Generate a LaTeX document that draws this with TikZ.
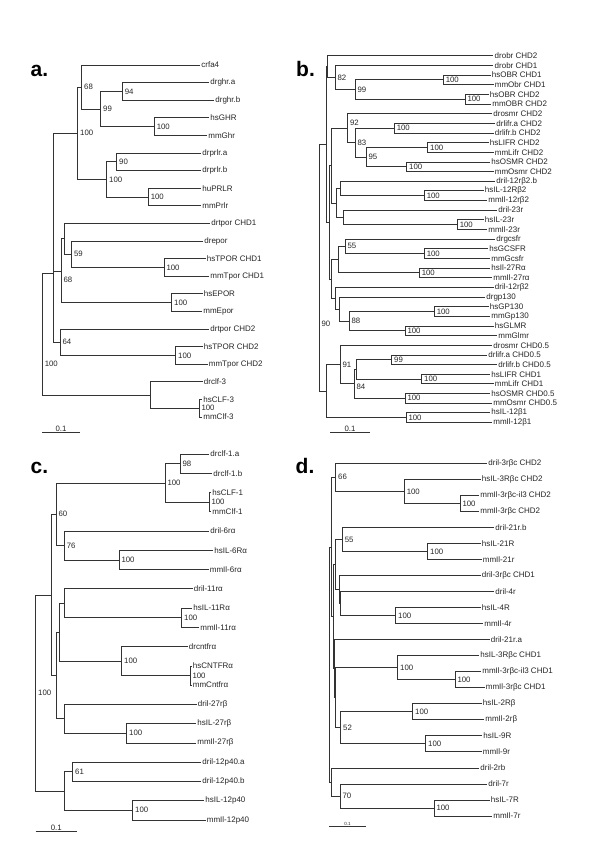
\documentclass[tikz,border=0pt]{standalone}
\usepackage{fontspec}
\setmainfont{Liberation Sans}
\newcommand\leafn[4]{\coordinate (#1) at (#2,#3); \node[lab] (#1t) at (#1) {#4};}
\newcommand\inod[3]{\coordinate (#1) at (#2,#3);}
\newcommand\kidz[2]{\foreach \k in {#2}{\draw[br] (#1) |- (\k);}}
\newcommand\bsv[2]{\node[bsl] (L#1) at (#1) {#2};}
\begin{document}
\begin{tikzpicture}[x=1pt,y=-1pt,
  br/.style={draw=black!80, line width=0.7pt},
  lab/.style={anchor=west, inner sep=1.2pt, font=\fontsize{8}{9}\selectfont, text=black!85},
  bsl/.style={anchor=west, inner sep=1pt, xshift=1.3pt, font=\fontsize{7.8}{9}\selectfont, text=black!85},
  sbl/.style={anchor=south, inner sep=0.6pt, font=\fontsize{7.8}{9}\selectfont, text=black!85},
  pl/.style={anchor=base west, inner sep=0pt, font=\fontsize{21}{21}\selectfont\bfseries}]
\useasboundingbox (0,0) rectangle (600,848);
\fill[white] (0,0) rectangle (600,848);

% ================= panel a =================
\node[pl] (pa) at (30.5,76.7) {a.};
\leafn{a1}{200}{65}{crfa4}
\leafn{a2}{209}{82.6}{drghr.a}
\leafn{a3}{214}{100.2}{drghr.b}
\leafn{a4}{209}{117.8}{hsGHR}
\leafn{a5}{207}{135.4}{mmGhr}
\leafn{a6}{201}{153}{drprlr.a}
\leafn{a7}{201}{170.6}{drprlr.b}
\leafn{a8}{201}{188.2}{huPRLR}
\leafn{a9}{201}{205.8}{mmPrlr}
\leafn{a10}{210}{223.4}{drtpor CHD1}
\leafn{a11}{203}{241}{drepor}
\leafn{a12}{205.5}{258.6}{hsTPOR CHD1}
\leafn{a13}{209}{276.2}{mmTpor CHD1}
\leafn{a14}{202.5}{293.8}{hsEPOR}
\leafn{a15}{202}{311.4}{mmEpor}
\leafn{a16}{209}{329}{drtpor CHD2}
\leafn{a17}{202.5}{346.6}{hsTPOR CHD2}
\leafn{a18}{207.5}{364.2}{mmTpor CHD2}
\leafn{a19}{202.5}{381.8}{drclf-3}
\leafn{a20}{202}{399.4}{hsCLF-3}
\leafn{a21}{202}{417}{mmClf-3}

\inod{aA}{122.3}{91.4} \kidz{aA}{a2,a3} \bsv{aA}{94}
\inod{aB}{154.3}{126.6} \kidz{aB}{a4,a5} \bsv{aB}{100}
\inod{aC}{100.7}{109} \kidz{aC}{aA,aB} \bsv{aC}{99}
\inod{aD}{81.7}{87} \kidz{aD}{a1,aC} \bsv{aD}{68}
\inod{aE}{116.7}{161.8} \kidz{aE}{a6,a7} \bsv{aE}{90}
\inod{aF}{148.3}{197} \kidz{aF}{a8,a9} \bsv{aF}{100}
\inod{aG}{106.7}{179.4} \kidz{aG}{aE,aF} \bsv{aG}{100}
\inod{aH}{77.7}{133.2} \kidz{aH}{aD,aG} \bsv{aH}{100}
\inod{aI}{164}{267.4} \kidz{aI}{a12,a13} \bsv{aI}{100}
\inod{aJ}{71.5}{254.2} \kidz{aJ}{a11,aI} \bsv{aJ}{59}
\inod{aK}{64.3}{238.8} \kidz{aK}{a10,aJ}
\inod{aL}{171.7}{302.6} \kidz{aL}{a14,a15} \bsv{aL}{100}
\inod{aM}{61}{271} \kidz{aM}{aK,aL} \node[bsl] (LaM) at (61,280) {68};
\inod{aN}{175.7}{355.4} \kidz{aN}{a17,a18} \bsv{aN}{100}
\inod{aO}{60}{342.2} \kidz{aO}{a16,aN} \bsv{aO}{64}
\inod{aP}{53.3}{273.3} \kidz{aP}{aH,aM,aO}
\inod{aQ}{199}{408.2} \kidz{aQ}{a20,a21} \bsv{aQ}{100}
\inod{aR}{150}{395} \kidz{aR}{a19,aQ}
\inod{aS}{42.3}{334} \kidz{aS}{aP,aR} \node[bsl] (LaS) at (42.3,364) {100};
\coordinate (sa0) at (42,432); \coordinate (sa1) at (80,432);
\draw[br] (sa0) -- (sa1); \node[sbl] (sat) at (61,432) {0.1};

% ================= panel b =================
\node[pl] (pb) at (296,76.7) {b.};
\leafn{b1}{493.3}{55.7}{drobr CHD2}
\leafn{b2}{493.3}{65.35}{drobr CHD1}
\leafn{b3}{490.5}{75}{hsOBR CHD1}
\leafn{b4}{493.5}{84.65}{mmObr CHD1}
\leafn{b5}{488.5}{94.3}{hsOBR CHD2}
\leafn{b6}{491}{103.95}{mmOBR CHD2}
\leafn{b7}{492}{113.6}{drosmr CHD2}
\leafn{b8}{495}{123.25}{drlifr.a CHD2}
\leafn{b9}{493.5}{132.9}{drlifr.b CHD2}
\leafn{b10}{488.5}{142.55}{hsLIFR CHD2}
\leafn{b11}{493.5}{152.2}{mmLifr CHD2}
\leafn{b12}{490}{161.85}{hsOSMR CHD2}
\leafn{b13}{493.5}{171.5}{mmOsmr CHD2}
\leafn{b14}{495}{181.15}{dril-12rβ2.b}
\leafn{b15}{483.5}{190.8}{hsIL-12Rβ2}
\leafn{b16}{487}{200.45}{mmIl-12rβ2}
\leafn{b17}{497}{210.1}{dril-23r}
\leafn{b18}{483.5}{219.75}{hsIL-23r}
\leafn{b19}{487}{229.4}{mmIl-23r}
\leafn{b20}{495}{239.05}{drgcsfr}
\leafn{b21}{488}{248.7}{hsGCSFR}
\leafn{b22}{490}{258.35}{mmGcsfr}
\leafn{b23}{490}{268}{hsIl-27Rα}
\leafn{b24}{492}{277.65}{mmIl-27rα}
\leafn{b25}{493.5}{287.3}{dril-12rβ2}
\leafn{b26}{485}{296.95}{drgp130}
\leafn{b27}{488.5}{306.6}{hsGP130}
\leafn{b28}{490}{316.25}{mmGp130}
\leafn{b29}{493.5}{325.9}{hsGLMR}
\leafn{b30}{497}{335.55}{mmGlmr}
\leafn{b31}{492}{345.2}{drosmr CHD0.5}
\leafn{b32}{487}{354.85}{drlifr.a CHD0.5}
\leafn{b33}{497}{364.5}{drlifr.b CHD0.5}
\leafn{b34}{490}{374.15}{hsLIFR CHD1}
\leafn{b35}{493.5}{383.8}{mmLifr CHD1}
\leafn{b36}{490}{393.45}{hsOSMR CHD0.5}
\leafn{b37}{492}{403.1}{mmOsmr CHD0.5}
\leafn{b38}{490}{412.75}{hsIL-12β1}
\leafn{b39}{492}{422.4}{mmIl-12β1}

\inod{bA}{443.3}{79.8} \kidz{bA}{b3,b4} \bsv{bA}{100}
\inod{bB}{465}{99.1} \kidz{bB}{b5,b6} \bsv{bB}{100}
\inod{bC}{355}{89.5} \kidz{bC}{bA,bB} \bsv{bC}{99}
\inod{bD}{335}{77.4} \kidz{bD}{b2,bC} \bsv{bD}{82}
\inod{bE}{327.5}{66.6} \kidz{bE}{b1,bD}
\inod{bF}{394.3}{128.1} \kidz{bF}{b8,b9} \bsv{bF}{100}
\inod{bG}{427.7}{147.4} \kidz{bG}{b10,b11} \bsv{bG}{100}
\inod{bH}{406.7}{166.7} \kidz{bH}{b12,b13} \bsv{bH}{100}
\inod{bI}{366}{157} \kidz{bI}{bG,bH} \bsv{bI}{95}
\inod{bJ}{355}{142.6} \kidz{bJ}{bF,bI} \bsv{bJ}{83}
\inod{bK}{347.5}{128.1} \kidz{bK}{b7,bJ} \node[bsl] (LbK) at (347.5,122.7) {92};
\inod{bL}{424.3}{195.6} \kidz{bL}{b15,b16} \bsv{bL}{100}
\inod{bM}{340.7}{188.4} \kidz{bM}{b14,bL}
\inod{bN}{457.3}{224.6} \kidz{bN}{b18,b19} \bsv{bN}{100}
\inod{bO}{343.3}{217.4} \kidz{bO}{b17,bN}
\inod{bP}{336.7}{202.9} \kidz{bP}{bM,bO}
\inod{bQ}{331}{165.5} \kidz{bQ}{bK,bP}
\inod{bR}{424.3}{253.5} \kidz{bR}{b21,b22} \bsv{bR}{100}
\inod{bS}{345}{246.3} \kidz{bS}{b20,bR} \bsv{bS}{55}
\inod{bT}{419.3}{272.8} \kidz{bT}{b23,b24} \bsv{bT}{100}
\inod{bU}{338.3}{259.6} \kidz{bU}{bS,bT}
\inod{bV}{434.3}{311.4} \kidz{bV}{b27,b28} \bsv{bV}{100}
\inod{bW}{405}{330.7} \kidz{bW}{b29,b30} \bsv{bW}{100}
\inod{bX}{349}{321.1} \kidz{bX}{bV,bW} \bsv{bX}{88}
\inod{bY}{339}{309} \kidz{bY}{b26,bX}
\inod{bZ}{335.7}{298.2} \kidz{bZ}{b25,bY}
\inod{bAA}{331.5}{278.9} \kidz{bAA}{bU,bZ}
\inod{bAB}{329}{222.2} \kidz{bAB}{bQ,bAA}
\inod{bAC}{326}{144.4} \kidz{bAC}{bE,bAB}
\inod{bAD}{391.7}{359.7} \kidz{bAD}{b32,b33} \bsv{bAD}{99}
\inod{bAE}{421.7}{379} \kidz{bAE}{b34,b35} \bsv{bAE}{100}
\inod{bAF}{356}{369.3} \kidz{bAF}{bAD,bAE}
\inod{bAG}{405}{398.3} \kidz{bAG}{b36,b37} \bsv{bAG}{100}
\inod{bAH}{354}{383.8} \kidz{bAH}{bAF,bAG} \node[bsl] (LbAH) at (354,387.3) {84};
\inod{bAI}{340}{364.5} \kidz{bAI}{b31,bAH} \bsv{bAI}{91}
\inod{bAJ}{406}{417.6} \kidz{bAJ}{b38,b39} \bsv{bAJ}{100}
\inod{bAK}{326}{391} \kidz{bAK}{bAI,bAJ}
\inod{bAL}{319}{267.7} \kidz{bAL}{bAC,bAK} \node[bsl] (LbAL) at (319,323.5) {90};
\coordinate (sb0) at (330,432); \coordinate (sb1) at (370,432);
\draw[br] (sb0) -- (sb1); \node[sbl] (sbt) at (350,432) {0.1};

% ================= panel c =================
\node[pl] (pc) at (30.5,473.3) {c.};
\leafn{c1}{209}{454}{drclf-1.a}
\leafn{c2}{212}{473.26}{drclf-1.b}
\leafn{c3}{211}{492.52}{hsCLF-1}
\leafn{c4}{211}{511.78}{mmClf-1}
\leafn{c5}{209}{531.04}{dril-6rα}
\leafn{c6}{213}{550.3}{hsIL-6Rα}
\leafn{c7}{208.5}{569.56}{mmIl-6rα}
\leafn{c8}{192.5}{588.82}{dril-11rα}
\leafn{c9}{192}{608.08}{hsIL-11Rα}
\leafn{c10}{199}{627.34}{mmIl-11rα}
\leafn{c11}{187.5}{646.6}{drcntfrα}
\leafn{c12}{191.5}{665.86}{hsCNTFRα}
\leafn{c13}{191.5}{685.12}{mmCntfrα}
\leafn{c14}{196.5}{704.38}{dril-27rβ}
\leafn{c15}{196}{723.64}{hsIL-27rβ}
\leafn{c16}{196}{742.9}{mmIl-27rβ}
\leafn{c17}{201}{762.16}{dril-12p40.a}
\leafn{c18}{201}{781.42}{dril-12p40.b}
\leafn{c19}{204}{800.68}{hsIL-12p40}
\leafn{c20}{205.5}{819.94}{mmIl-12p40}

\inod{cA}{180}{463.6} \kidz{cA}{c1,c2} \bsv{cA}{98}
\inod{cB}{209}{502.2} \kidz{cB}{c3,c4} \bsv{cB}{100}
\inod{cC}{165}{482.9} \kidz{cC}{cA,cB} \bsv{cC}{100}
\inod{cD}{119}{559.9} \kidz{cD}{c6,c7} \bsv{cD}{100}
\inod{cE}{64.3}{545.5} \kidz{cE}{c5,cD} \bsv{cE}{76}
\inod{cF}{56}{514.2} \kidz{cF}{cC,cE} \bsv{cF}{60}
\inod{cG}{181.7}{617.7} \kidz{cG}{c9,c10} \bsv{cG}{100}
\inod{cH}{64.3}{603.3} \kidz{cH}{c8,cG}
\inod{cI}{190}{675.5} \kidz{cI}{c12,c13} \bsv{cI}{100}
\inod{cJ}{121.7}{661.1} \kidz{cJ}{c11,cI} \bsv{cJ}{100}
\inod{cK}{59.3}{632.2} \kidz{cK}{cH,cJ}
\inod{cL}{126.7}{733.3} \kidz{cL}{c15,c16} \bsv{cL}{100}
\inod{cM}{64.3}{718.8} \kidz{cM}{c14,cL}
\inod{cN}{56.7}{675.5} \kidz{cN}{cK,cM}
\inod{cO}{51.7}{594.9} \kidz{cO}{cF,cN}
\inod{cP}{72.7}{771.8} \kidz{cP}{c17,c18} \bsv{cP}{61}
\inod{cQ}{132.7}{810.3} \kidz{cQ}{c19,c20} \bsv{cQ}{100}
\inod{cR}{64.3}{791.1} \kidz{cR}{cP,cQ}
\inod{cS}{35.7}{693} \kidz{cS}{cO,cR} \bsv{cS}{100}
\coordinate (sc0) at (35.7,831); \coordinate (sc1) at (76.7,831);
\draw[br] (sc0) -- (sc1); \node[sbl] (sct) at (56.2,831) {0.1};

% ================= panel d =================
\node[pl] (pd) at (295.5,473.3) {d.};
\leafn{d1}{487}{463.3}{dril-3rβc CHD2}
\leafn{d2}{480.5}{479.33}{hsIL-3Rβc CHD2}
\leafn{d3}{479}{495.36}{mmIl-3rβc-il3 CHD2}
\leafn{d4}{479}{511.39}{mmIl-3rβc CHD2}
\leafn{d5}{494}{527.42}{dril-21r.b}
\leafn{d6}{480.5}{543.45}{hsIL-21R}
\leafn{d7}{481.5}{559.48}{mmIl-21r}
\leafn{d8}{480.5}{575.51}{dril-3rβc CHD1}
\leafn{d9}{494}{591.54}{dril-4r}
\leafn{d10}{480.5}{607.57}{hsIL-4R}
\leafn{d11}{483}{623.6}{mmIl-4r}
\leafn{d12}{489.5}{639.63}{dril-21r.a}
\leafn{d13}{479}{655.66}{hsIL-3Rβc CHD1}
\leafn{d14}{481}{671.69}{mmIl-3rβc-il3 CHD1}
\leafn{d15}{484.5}{687.72}{mmIl-3rβc CHD1}
\leafn{d16}{481.5}{703.75}{hsIL-2Rβ}
\leafn{d17}{484}{719.78}{mmIl-2rβ}
\leafn{d18}{482}{735.81}{hsIL-9R}
\leafn{d19}{481.5}{751.84}{mmIl-9r}
\leafn{d20}{479}{767.87}{dril-2rb}
\leafn{d21}{487}{783.9}{dril-7r}
\leafn{d22}{489.5}{799.93}{hsIL-7R}
\leafn{d23}{492}{815.96}{mmIl-7r}

\inod{dA}{460}{503.4} \kidz{dA}{d3,d4} \bsv{dA}{100}
\inod{dB}{404.3}{491.4} \kidz{dB}{d2,dA} \bsv{dB}{100}
\inod{dC}{335.7}{477.3} \kidz{dC}{d1,dB} \bsv{dC}{66}
\inod{dD}{427.7}{551.5} \kidz{dD}{d6,d7} \bsv{dD}{100}
\inod{dE}{342.3}{539.4} \kidz{dE}{d5,dD} \bsv{dE}{55}
\inod{dF}{395.7}{615.6} \kidz{dF}{d10,d11} \bsv{dF}{100}
\inod{dG}{340.5}{603.6} \kidz{dG}{d9,dF}
\inod{dH}{339.3}{589.6} \kidz{dH}{d8,dG}
\inod{dI}{335}{564.5} \kidz{dI}{dE,dH}
\inod{dJ}{455}{679.7} \kidz{dJ}{d14,d15} \bsv{dJ}{100}
\inod{dK}{397.7}{667.7} \kidz{dK}{d13,dJ} \bsv{dK}{100}
\inod{dL}{412.7}{711.8} \kidz{dL}{d16,d17} \bsv{dL}{100}
\inod{dM}{425.7}{743.8} \kidz{dM}{d18,d19} \bsv{dM}{100}
\inod{dN}{340.7}{727.8} \kidz{dN}{dL,dM} \bsv{dN}{52}
\inod{dO}{335.5}{697.8} \kidz{dO}{dK,dN}
\inod{dP}{334.3}{668.7} \kidz{dP}{d12,dO}
\inod{dQ}{333}{616.6} \kidz{dQ}{dI,dP}
\inod{dR}{331}{547} \kidz{dR}{dC,dQ}
\inod{dS}{434}{807.9} \kidz{dS}{d22,d23} \bsv{dS}{100}
\inod{dT}{340}{795.9} \kidz{dT}{d21,dS} \bsv{dT}{70}
\inod{dU}{331.7}{781.9} \kidz{dU}{d20,dT}
\inod{dV}{329.3}{664.5} \kidz{dV}{dR,dU}
\coordinate (sd0) at (329.3,826.7); \coordinate (sd1) at (365.7,826.7);
\draw[br] (sd0) -- (sd1); \node[sbl, font=\fontsize{4.5}{5}\selectfont] (sdt) at (347.5,826.7) {0.1};
\end{tikzpicture}
\end{document}
